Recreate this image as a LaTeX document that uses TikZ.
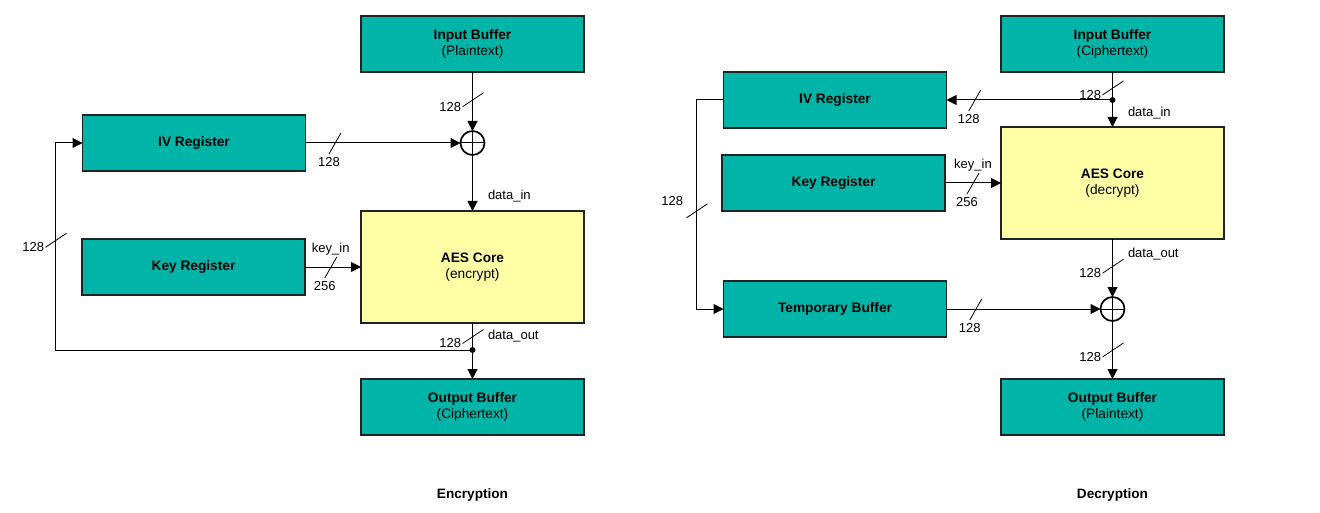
\documentclass[tikz,border=0pt]{standalone}
\usepackage{fontspec}
\setmainfont{Liberation Sans}
\usepackage{xcolor}
\usetikzlibrary{shapes,arrows.meta,calc,positioning}

\definecolor{blockfill}{RGB}{0,180,168}
\definecolor{corefill}{RGB}{255,255,165}
\definecolor{blockline}{RGB}{30,36,36}

\begin{document}
\begin{tikzpicture}[x=1pt,y=1pt,line width=1pt,>={Triangle[length=10pt,width=10pt]},
				    block/.style={rectangle,draw=blockline,line width=1.5pt,fill=blockfill,
				    minimum width=223pt,minimum height=56pt,outer sep=0pt,align=center,
				    font=\fontsize{13.7}{16}\selectfont},
				    core/.style={block,fill=corefill,minimum height=112pt},
				    xor/.style={circle,draw,line width=1.7pt,minimum size=24pt,inner sep=0pt,outer sep=0pt},
				    lbl/.style={font=\fontsize{13}{15}\selectfont,inner sep=1pt},
				    vbus/.pic={\draw[-,line width=0.8pt] (-10,-7) -- (11,7);
				               \node[lbl,anchor=east] at (-10,-7) {#1};},
				    hbus/.pic={\draw[-,line width=0.8pt] (-6,-11) -- (6,10);
				               \node[lbl,anchor=north,inner sep=3pt] at (-6,-11) {#1};}]

				  \useasboundingbox (0,0) rectangle (1320,-513);

				  \node[block] (E1) at (472.5,-44) {\textbf{Input Buffer}\\(Plaintext)};
				  \node[xor,below=59pt of E1] (X1) {};
				  \node[core,below=56pt of X1] (E2) {\textbf{AES Core}\\(encrypt)};
				  \node[block,below=56pt of E2] (E3) {\textbf{Output Buffer}\\(Ciphertext)};
				  \node[block,left=155pt of X1] (E4) {\textbf{IV Register}};
				  \node[block,left=56pt of E2] (E5) {\textbf{Key Register}};
				  \node[below=50pt of E3,font=\fontsize{13.6}{15}\selectfont\bfseries] (E8) {Encryption};
				  \coordinate[below=27pt of E2] (E6);
				  \coordinate[left=27pt of E4.west] (E7);

				  \node[block] (D1) at (1112.5,-44) {\textbf{Input Buffer}\\(Ciphertext)};
				  \coordinate[below=28pt of D1] (D6);
				  \node[core,below=27pt of D6] (D2) {\textbf{AES Core}\\(decrypt)};
				  \node[block,left=166pt of D6] (D4) {\textbf{IV Register}};
				  \node[block,left=56pt of D2] (D5) {\textbf{Key Register}};
				  \node[xor,below=58pt of D2] (X2) {};
				  \node[block,left=154pt of X2] (D7) {\textbf{Temporary Buffer}};
				  \node[block,below=58pt of X2] (D3) {\textbf{Output Buffer}\\(Plaintext)};
				  \node[below=50pt of D3,font=\fontsize{13.6}{15}\selectfont\bfseries] (D10) {Decryption};
				  \coordinate[left=27pt of D4.west] (D8);

				  \draw(X1.north) -- (X1.south);
				  \draw(X1.west) -- (X1.east);
				  \draw(X2.north) -- (X2.south);
				  \draw(X2.west) -- (X2.east);

				  \draw[->] (E1) -- (X1);
				  \pic at ($(E1.south)!0.47!(X1.north)$) {vbus=128};
				  \draw[->] (E4) -- (X1);
				  \pic at ($(E4.east)!0.19!(X1.west)$) {hbus=128};
				  \draw[->] (X1) -- (E2);
				  \node[lbl,anchor=west] at ($(X1.south)!0.73!(E2.north)+(14,0)$) {data\_in};
				  \draw[->] (E5) -- (E2);
				  \coordinate (E9) at ($(E5.east)!0.46!(E2.west)$);
				  \pic at (E9) {hbus=256};
				  \node[lbl,above=10pt of E9] {key\_in};
				  \draw[->] (E2) -- (E3);
				  \fill (E6) circle (3pt);
				  \coordinate (E10) at ($(E2.south)!0.5!(E6)$);
				  \pic at (E10) {vbus=128};
				  \node[lbl,right=14pt of E10] {data\_out};
				  \draw[->] (E6) -| (E7) -- (E4);
				  \pic at ($(E7)!0.47!(E7|-E6)$) {vbus=128};

				  \draw (D1) -- (D6);
				  \fill (D6) circle (3pt);
				  \pic at ($(D1.south)!0.57!(D6)$) {vbus=128};
				  \draw[->] (D6) -- (D4);
				  \pic at ($(D4.east)!0.17!(D6)$) {hbus=128};
				  \draw[->] (D6) -- (D2);
				  \node[lbl,anchor=west] at ($(D6)!0.48!(D2.north)+(14,0)$) {data\_in};
				  \draw[->] (D5) -- (D2);
				  \coordinate (D9) at ($(D5.east)!0.5!(D2.west)$);
				  \pic at (D9) {hbus=256};
				  \node[lbl,above=10pt of D9] {key\_in};
				  \draw[->] (D2) -- (X2);
				  \coordinate (D11) at ($(D2.south)!0.47!(X2.north)$);
				  \pic at (D11) {vbus=128};
				  \node[lbl,anchor=south west] at ($(D11)+(14,5)$) {data\_out};
				  \draw[->] (D7) -- (X2);
				  \pic at ($(D7.east)!0.19!(X2.west)$) {hbus=128};
				  \draw[->] (X2) -- (D3);
				  \pic at ($(X2.south)!0.5!(D3.north)$) {vbus=128};
				  \draw[->] (D4) -- (D8) |- (D7);
				  \coordinate (D12) at ($(D8)!0.53!(D8|-D7)$);
				  \pic at (D12) {vbus=};
				  \node[lbl,anchor=south east] at ($(D12)+(-12,4)$) {128};
				\end{tikzpicture}
\end{document}
